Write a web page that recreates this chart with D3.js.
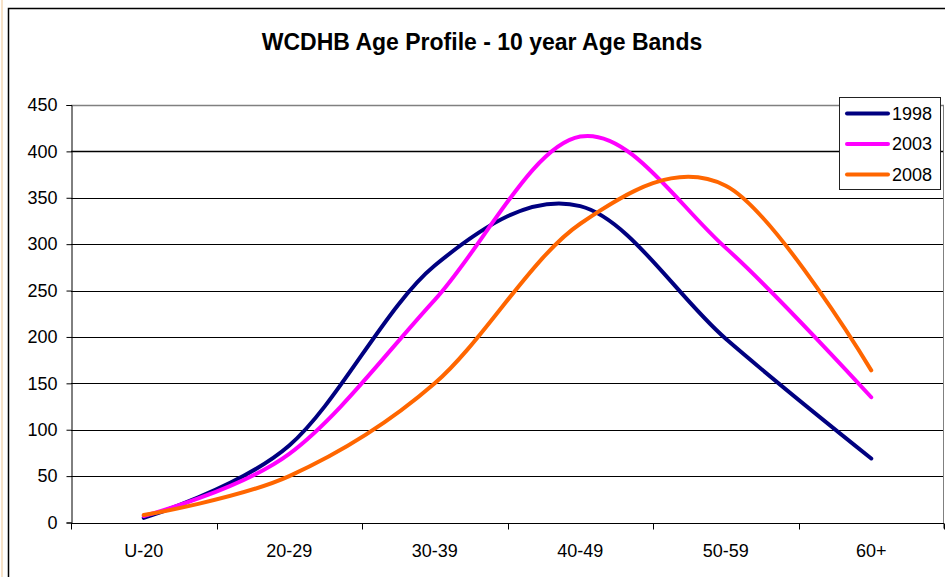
<!DOCTYPE html>
<html>
<head>
<meta charset="utf-8">
<script src="https://cdn.jsdelivr.net/npm/d3@7"></script>
<style>
  html, body { margin: 0; padding: 0; background: #fff; }
  svg { display: block; font-family: "Liberation Sans", Arial, sans-serif; }
</style>
</head>
<body>
<svg id="chart" width="945" height="577"></svg>
<script>
const title = "WCDHB Age Profile - 10 year Age Bands";
const categories = ["U-20", "20-29", "30-39", "40-49", "50-59", "60+"];
const seriesNames = ["1998", "2003", "2008"];
const values1998 = [5, 83, 277, 341, 198, 69];
const values2003 = [7, 74, 240, 416, 296, 135];
const values2008 = [8, 50, 150, 322, 363, 164];
const yTicks = [0, 50, 100, 150, 200, 250, 300, 350, 400, 450];
const colors = ["#000080", "#FF00FF", "#FF6600"];

(function () {
const series = [values1998, values2003, values2008].map((v, i) => ({
  name: seriesNames[i], color: colors[i],
  points: categories.map((c, j) => ({ cat: c, value: v[j] }))
}));

const svg = d3.select("#chart");

// outer chart border
svg.append("line").attr("x1", 2).attr("x2", 2).attr("y1", 0).attr("y2", 577)
  .attr("stroke", "#f7e2c8").attr("stroke-width", 2);
svg.append("rect").attr("x", 8.5).attr("y", 8.5).attr("width", 945).attr("height", 600)
  .attr("fill", "#fff").attr("stroke", "#000").attr("stroke-width", 1.5);

const pLeft = 71, pRight = 944, pTop = 105, pBottom = 522.5;
const x = d3.scaleBand().domain(categories).range([pLeft, pRight]).paddingInner(0).paddingOuter(0);
const y = d3.scaleLinear().domain([0, 450]).range([pBottom, pTop]);

// gridlines
svg.append("g").selectAll("line").data(yTicks.filter(t => t > 0)).join("line")
  .attr("x1", pLeft).attr("x2", pRight)
  .attr("y1", d => Math.round(y(d)) + 0.5).attr("y2", d => Math.round(y(d)) + 0.5)
  .attr("stroke", d => d === 450 ? "#808080" : "#000").attr("stroke-width", d => d >= 400 ? 1.5 : 1);

// right edge of plot area
svg.append("line").attr("x1", pRight - 0.5).attr("x2", pRight - 0.5)
  .attr("y1", y(450)).attr("y2", pBottom + 6).attr("stroke", "#808080");

// y axis
const yAxis = d3.axisLeft(y).tickValues(yTicks).tickSize(5).tickPadding(9);
const gy = svg.append("g").attr("transform", `translate(${pLeft + 0.5},0)`).call(yAxis);
gy.select(".domain").attr("stroke", "#000");
gy.selectAll(".tick line").attr("stroke", "#000");
gy.selectAll(".tick text").attr("font-size", 18).attr("fill", "#000")
  .attr("font-family", "Liberation Sans, Arial, sans-serif");

// x axis
const xAxis = d3.axisBottom(x).tickSize(0).tickPadding(21);
const gx = svg.append("g").attr("transform", `translate(0,${Math.round(pBottom) + 0.5})`).call(xAxis);
gx.select(".domain").attr("stroke", "#000").attr("d", `M${pLeft},0H${pRight}`);
gx.selectAll(".tick text").attr("font-size", 18).attr("fill", "#000")
  .attr("font-family", "Liberation Sans, Arial, sans-serif");
const bounds = categories.map(c => x(c)).concat([x(categories[categories.length - 1]) + x.bandwidth()]);
gx.append("g").selectAll("line").data(bounds).join("line")
  .attr("x1", d => Math.round(d) + 0.5).attr("x2", d => Math.round(d) + 0.5)
  .attr("y1", 0).attr("y2", 6).attr("stroke", "#000");

// lines
const line = d3.line()
  .x(d => x(d.cat) + x.bandwidth() / 2)
  .y(d => y(d.value))
  .curve(d3.curveCardinal.tension(0));
svg.append("g").selectAll("path").data(series).join("path")
  .attr("d", d => line(d.points))
  .attr("fill", "none").attr("stroke", d => d.color).attr("stroke-width", 4)
  .attr("stroke-linejoin", "round").attr("stroke-linecap", "round");

// title
svg.append("text").attr("x", 482).attr("y", 49.5).attr("text-anchor", "middle")
  .attr("font-size", 23).attr("font-weight", "bold").attr("fill", "#000").text(title);

// legend
const lg = svg.append("g");
lg.append("rect").attr("x", 839.5).attr("y", 97.5).attr("width", 101).attr("height", 92)
  .attr("fill", "#fff").attr("stroke", "#222").attr("stroke-width", 1);
const items = lg.selectAll("g.item").data(series).join("g").attr("class", "item")
  .attr("transform", (d, i) => `translate(0,${113.5 + i * 30.5})`);
items.append("line").attr("x1", 847).attr("x2", 888).attr("y1", 0).attr("y2", 0)
  .attr("stroke", d => d.color).attr("stroke-width", 4).attr("stroke-linecap", "round");
items.append("text").attr("x", 892).attr("y", 6.3).attr("font-size", 18).attr("fill", "#000")
  .text(d => d.name);
})();
</script>
</body>
</html>
